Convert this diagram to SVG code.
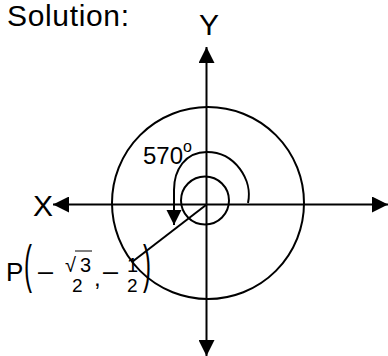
<svg xmlns="http://www.w3.org/2000/svg" width="388" height="356" viewBox="0 0 388 356">
<style>
.t{font-family:"Liberation Sans",Arial,sans-serif;fill:#000}
.s{fill:none;stroke:#000;stroke-width:2}
</style>
<defs>
<marker id="ah" markerUnits="userSpaceOnUse" markerWidth="16" markerHeight="16" refX="16" refY="8" orient="auto">
<path d="M0,0 L16,8 L0,16 z" fill="#000"/>
</marker>
<marker id="ah2" markerUnits="userSpaceOnUse" markerWidth="16" markerHeight="16" refX="15" refY="8" orient="auto">
<path d="M0,0.5 L15,8 L0,15.5 z" fill="#000"/>
</marker>
</defs>
<rect width="388" height="356" fill="#fff"/>
<text class="t" x="7" y="26" font-size="30" textLength="122">Solution:</text>
<g id="circles">
<circle class="s" cx="208" cy="203" r="96"/>
<circle class="s" cx="205" cy="200.5" r="24"/>
</g>
<g id="connectors">
<line class="s" x1="206.5" y1="204.5" x2="53" y2="204.5" marker-end="url(#ah)"/>
<line class="s" x1="206.5" y1="204.5" x2="388" y2="204.5" marker-end="url(#ah)"/>
<line class="s" x1="206.5" y1="204.5" x2="206.5" y2="47" marker-end="url(#ah)"/>
<line class="s" x1="206.5" y1="204.5" x2="206.5" y2="356" marker-end="url(#ah)"/>
<line class="s" x1="206" y1="205" x2="132" y2="262"/>
<path class="s" d="M248 203 C253 180,235 152,207 152 C185 152,174 170,174 190 L174 225" marker-end="url(#ah2)"/>
</g>
<g id="labels">
<text class="t" x="33" y="216" font-size="30">X</text>
<text class="t" x="199" y="35" font-size="30">Y</text>
<text class="t" x="143" y="164" font-size="24">570</text>
<text class="t" x="183" y="152" font-size="16">o</text>
</g>
<g id="point">
<text class="t" x="6" y="281" font-size="26">P</text>
<text class="t" font-size="24" transform="translate(24,282) scale(1,2.17)">(</text>
<text class="t" x="38" y="280" font-size="27">–</text>
<text class="t" x="65" y="272" font-size="20">√</text>
<line x1="75" y1="251" x2="92" y2="251" stroke="#000" stroke-width="1"/>
<text class="t" x="80" y="272" font-size="20">3</text>
<text class="t" x="72" y="292" font-size="19">2</text>
<text class="t" x="94" y="286" font-size="24">,</text>
<text class="t" x="103" y="280" font-size="27">–</text>
<text class="t" x="127" y="272" font-size="20">1</text>
<text class="t" x="127" y="292" font-size="19">2</text>
<text class="t" font-size="24" transform="translate(143,282) scale(1,2.17)">)</text>
</g>
</svg>
